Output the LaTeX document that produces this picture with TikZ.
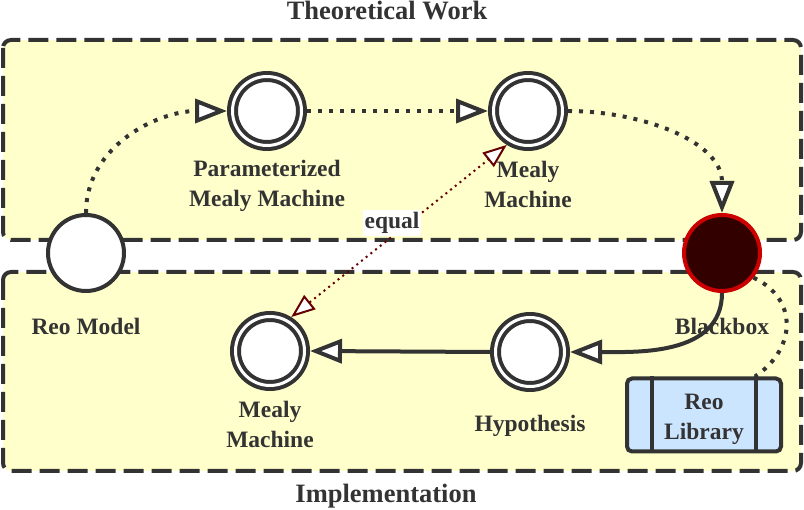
\documentclass[tikz,border=0pt]{standalone}
\usepackage{fontspec}
\setmainfont{Liberation Serif}
\usetikzlibrary{arrows.meta}
\definecolor{ink}{HTML}{333333}
\definecolor{panel}{HTML}{FFFFCC}
\definecolor{bbfill}{HTML}{330000}
\definecolor{bbline}{HTML}{CC0000}
\definecolor{libfill}{HTML}{CCE5FF}
\definecolor{eqline}{HTML}{660000}
\tikzset{
  panelbox/.style={draw=ink, fill=panel, line width=4pt, rounded corners=8pt, dash pattern=on 20pt off 8pt},
  single/.style={circle, draw=ink, fill=white, line width=4pt, minimum size=76pt, inner sep=0pt},
  dbl/.style={circle, draw=ink, fill=white, line width=4pt, double=white, double distance=3pt, minimum size=69pt, inner sep=0pt, outer sep=5.5pt},
  blackbox/.style={circle, draw=bbline, fill=bbfill, line width=4pt, minimum size=76pt, inner sep=0pt},
  lbl/.style={text=ink, font=\fontsize{23.5}{30}\selectfont\bfseries, align=center, inner sep=0pt},
  ttl/.style={text=ink, font=\fontsize{26.5}{30}\selectfont\bfseries, inner sep=0pt},
  dotline/.style={draw=ink, line width=4pt, dash pattern=on 4pt off 7pt},
  solidline/.style={draw=ink, line width=4pt},
  tip/.style={-{Triangle[open, length=32pt, width=24pt, fill=white]}},
  eqtip/.style={{Triangle[open, length=24pt, width=18pt, fill=white]}-{Triangle[open, length=24pt, width=18pt, fill=white]}},
}
\begin{document}
\begin{tikzpicture}[x=1pt, y=-1pt]
\useasboundingbox (0,0) rectangle (804,510);
% panels
\path[panelbox] (3,40) rectangle (801,240);
\path[panelbox] (3,272) rectangle (801,471);
\node[ttl] (ttop) at (387,11) {Theoretical Work};
\node[ttl] (tbot) at (386,496) {Implementation};
% library
\node[draw=ink, fill=libfill, line width=4pt, rounded corners=5pt, minimum width=154pt, minimum height=73pt, inner sep=0pt] (lib) at (704,415) {};
\draw[ink, line width=4pt] ([xshift=-52pt]lib.north) coordinate (l1) -- ([xshift=-52pt]lib.south);
\draw[ink, line width=4pt] ([xshift=52pt]lib.north) coordinate (l2) -- ([xshift=52pt]lib.south);
\node[lbl] (libtxt) at (704,419) {Reo\\Library};
% nodes
\node[single] (reo) at (86,253) {};
\node[lbl] (reol) at (86,326) {Reo Model};
\node[dbl] (pmm) at (267,111) {};
\node[lbl] (pmml) at (267,186) {Parameterized\\Mealy Machine};
\node[dbl] (mm) at (528,111) {};
\node[lbl] (mml) at (528,184) {Mealy\\Machine};
\node[blackbox] (bb) at (722,253) {};
\node[lbl] (bbl) at (722,326) {Blackbox};
\node[dbl] (mm2) at (270,351) {};
\node[lbl] (mm2l) at (270,424) {Mealy\\Machine};
\node[dbl] (hyp) at (530,352) {};
\node[lbl] (hypl) at (530,426) {Hypothesis};
% connectors
\draw[dotline, tip] (reo.north) to[out=90, in=180] (pmm.west);
\draw[dotline, tip] (pmm.east) -- (mm.west);
\draw[dotline, tip] (mm.east) to[out=0, in=90] (bb.north);
\draw[solidline, tip] (bb.south) to[out=-90, in=0] (hyp.east);
\draw[solidline, tip] (hyp.west) -- (mm2.east);
\draw[dotline] (bb.-38) .. controls (800,300) and (795,350) .. ([xshift=-1pt]l2);
\draw[eqline, line width=2pt, dash pattern=on 2pt off 4pt, eqtip] (mm2.58) -- (mm.238);
\node[fill=white, text=ink, font=\fontsize{23.5}{26}\selectfont\bfseries, inner sep=2pt] (eq) at (392,223) {equal};
\end{tikzpicture}
\end{document}
